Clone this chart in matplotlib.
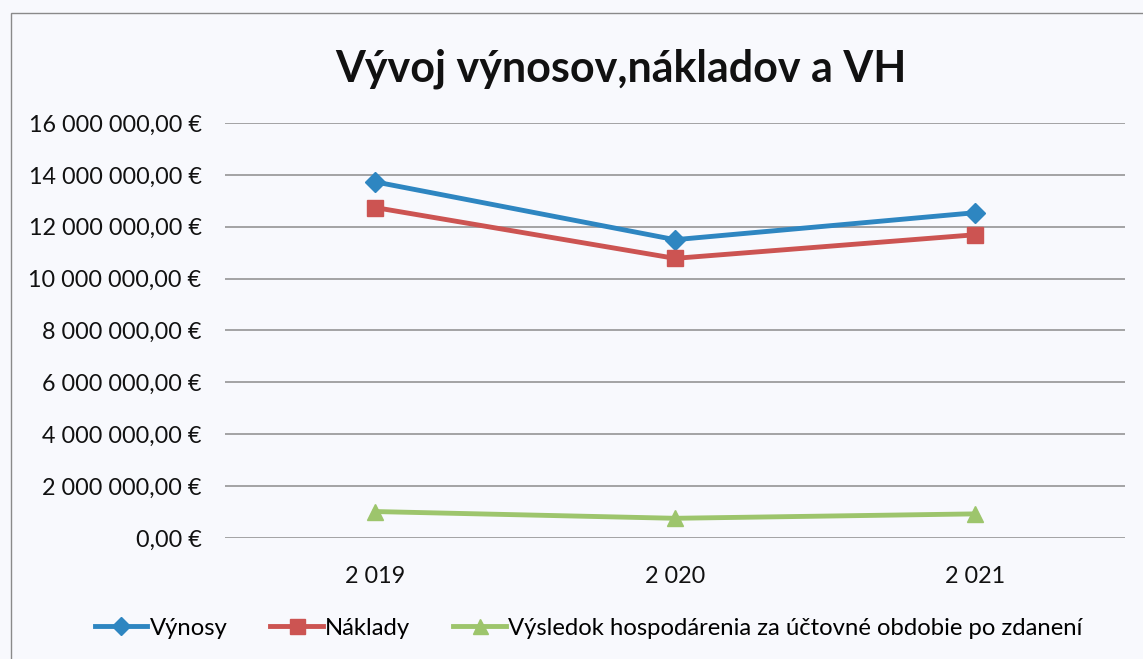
import numpy as np
import matplotlib.pyplot as plt
from matplotlib.patches import Rectangle
from matplotlib.ticker import FuncFormatter

plt.rcParams['font.family'] = ['Lato', 'DejaVu Sans']

years = ["2 019", "2 020", "2 021"]
vynosy = [13730000, 11500000, 12540000]
naklady = [12740000, 10780000, 11690000]
vh = [1020000, 760000, 930000]

bg = '#f8f9fd'
fig = plt.figure(figsize=(11.43, 6.59), dpi=100, facecolor=bg)
ax = fig.add_axes([0.197, 0.1836, 0.787, 0.6298], facecolor=bg)

# frame of the chart (scan is cut on right and bottom)
fig.patches.append(Rectangle((11/1143, -0.05), 1.2, 0.05 + 1 - 13/659,
                             transform=fig.transFigure, fill=False,
                             edgecolor='#8a8a8a', linewidth=1.0))

x = np.arange(len(years))
ax.plot(x, vynosy, '-D', color='#2e86c1', lw=3.5, ms=10, label='Výnosy')
ax.plot(x, naklady, '-s', color='#cc5452', lw=3.5, ms=12, label='Náklady')
ax.plot(x, vh, '-^', color='#9dc56c', lw=3.5, ms=12,
        label='Výsledok hospodárenia za účtovné obdobie po zdanení')

ax.set_xlim(-0.5, 2.5)
ax.set_ylim(0, 16000000)
ax.set_yticks(np.arange(0, 16000001, 2000000))


def fmt(v, pos):
    s = "{:,.2f}".format(v).replace(",", " ").replace(".", ",")
    return s + " €"


ax.yaxis.set_major_formatter(FuncFormatter(fmt))
ax.set_xticks(x)
ax.set_xticklabels(years)
ax.tick_params(axis='both', length=0, labelsize=16.8, colors='#111111')
ax.tick_params(axis='y', pad=17)
ax.tick_params(axis='x', pad=20)
ax.grid(axis='y', color='#8c8c8c', lw=1.1)
ax.set_axisbelow(True)
for sp in ax.spines.values():
    sp.set_visible(False)

fig.text(0.543, 0.895, "Vývoj výnosov,nákladov a VH", ha='center', va='center',
         fontsize=31, fontweight='bold', color='#111111')

fig.legend(loc='center', bbox_to_anchor=(0.515, 0.047), ncol=3, frameon=False,
           fontsize=17.2, handlelength=2.2, handletextpad=0.1, columnspacing=1.8,
           markerscale=0.9)

fig.savefig('out.png', dpi=100, facecolor=bg)
